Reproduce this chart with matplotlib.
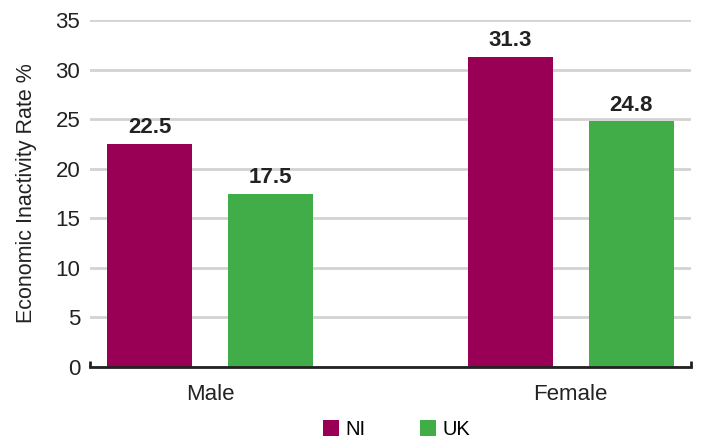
import matplotlib
matplotlib.use("Agg")
import matplotlib.pyplot as plt
import numpy as np

plt.rcParams['font.family'] = ['Liberation Sans', 'DejaVu Sans']

# economic inactivity by sex
groups = ['Male', 'Female']
series = ['NI', 'UK']
ni = [22.5, 31.3]
uk = [17.5, 24.8]
colors = ['#990055', '#41ad49']

fig = plt.figure(figsize=(7.01, 4.41), dpi=100)
ax = fig.add_axes([90 / 701, 74 / 441, 601 / 701, 347 / 441])

x = np.arange(len(groups))
w = 0.236
off = 0.168
b1 = ax.bar(x - off, ni, w, color=colors[0], label=series[0], zorder=3)
b2 = ax.bar(x + off, uk, w, color=colors[1], label=series[1], zorder=3)

for bars in (b1, b2):
    for b in bars:
        ax.text(b.get_x() + b.get_width() / 2, b.get_height() + 0.55,
                f"{b.get_height():.1f}", ha='center', va='bottom',
                fontsize=16, fontweight='bold', color='#222222')

ax.set_xlim(-1 / 3, 4 / 3)
ax.set_ylim(0, 35)
ax.set_yticks(np.arange(0, 36, 5))
ax.yaxis.grid(True, color='#d3d3d3', linewidth=2)
ax.set_axisbelow(True)
ax.set_xticks(x)
ax.set_xticklabels(groups)
ax.tick_params(axis='both', length=0, labelsize=16, colors='#222222')
ax.tick_params(axis='x', pad=12)
ax.tick_params(axis='y', pad=7)

for s in ['top', 'right', 'left']:
    ax.spines[s].set_visible(False)
ax.spines['bottom'].set_color('#222222')
ax.spines['bottom'].set_linewidth(2)
ax.spines['bottom'].set_zorder(4)

# small upward end ticks on the category axis
for xe in ax.get_xlim():
    ax.plot([xe, xe], [0, 0.6], color='#222222', lw=2, clip_on=False, zorder=4,
            solid_capstyle='butt')

ax.set_ylabel('Economic Inactivity Rate %', fontsize=15.5, color='#222222', labelpad=13)

ax.legend(loc='upper center', bbox_to_anchor=(0.51, -0.13), ncol=2, frameon=False,
          fontsize=14.5, handlelength=0.8, handleheight=0.8, columnspacing=2.7,
          handletextpad=0.3, borderaxespad=0)

fig.savefig('out.png', dpi=100)
